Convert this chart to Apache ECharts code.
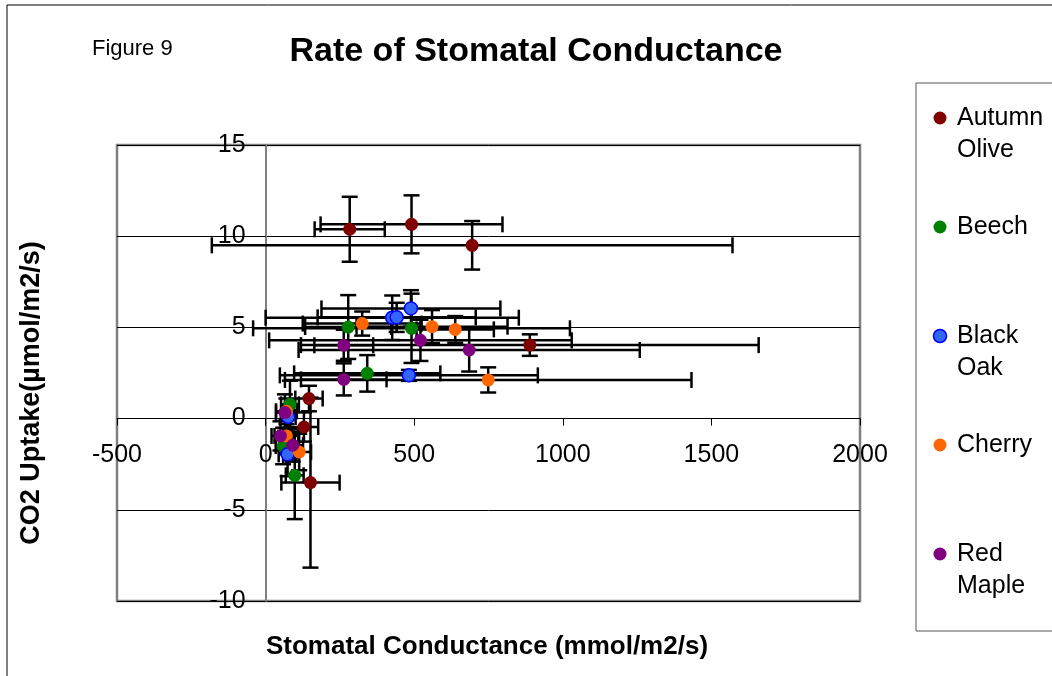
<!DOCTYPE html>
<html><head><meta charset="utf-8">
<script src="https://cdn.jsdelivr.net/npm/echarts@6/dist/echarts.min.js"></script>
<style>html,body{margin:0;padding:0;background:#fff}#c{width:1052px;height:676px}</style>
</head><body><div id="c"></div>
<script>
// Series names and legend text lines
const seriesNames = ['Autumn Olive', 'Beech', 'Black Oak', 'Cherry', 'Red Maple'];
const legendLines = [['Autumn', 'Olive'], ['Beech'], ['Black', 'Oak'], ['Cherry'], ['Red', 'Maple']];
// each point: [stomatal conductance, CO2 uptake, conductance error, uptake error]
const autumnOlive = [[283, 10.38, 118, 1.78], [491, 10.65, 306, 1.59], [695, 9.50, 876, 1.33], [889, 4.03, 770, 0.59], [146, 1.10, 46, 0.7], [129, -0.46, 48, 0.8], [151, -3.51, 98, 4.66]];
const beech = [[278, 5.02, 145, 1.75], [491, 4.95, 533, 1.9], [342, 2.48, 246, 1.0], [82, 0.78, 30, 1.3], [59, -1.50, 25, 1.0], [98, -3.11, 30, 2.4]];
const blackOak = [[489, 6.04, 301, 1.0], [426, 5.53, 426, 1.22], [441, 5.55, 266, 0.8], [482, 2.37, 434, 0.3], [76, 0.09, 25, 0.6], [74, -1.96, 30, 1.2]];
const cherry = [[325, 5.21, 200, 0.66], [560, 5.04, 254, 0.91], [638, 4.89, 130, 0.73], [749, 2.12, 684, 0.69], [70, 0.40, 35, 0.7], [70, -0.95, 40, 0.9], [113, -1.83, 40, 1.0]];
const redMaple = [[263, 4.02, 99, 0.85], [521, 4.29, 509, 1.13], [685, 3.76, 574, 1.18], [263, 2.15, 144, 0.88], [65, 0.33, 30, 1.0], [50, -0.95, 30, 0.8], [91, -1.46, 35, 0.9]];
const xAxisRange = [-500, 2000, 500];
const yAxisRange = [-10, 15, 5];
const chartTitle = 'Rate of Stomatal Conductance';
const figureLabel = 'Figure 9';
const xTitle = 'Stomatal Conductance (mmol/m2/s)';
const yTitle = 'CO2 Uptake(µmol/m2/s)';

const allData = [autumnOlive, beech, blackOak, cherry, redMaple];
const colors = ['#800000', '#008000', '#3366FF', '#FF6600', '#800080'];
const borders = [null, null, '#0000FF', null, null];
const FONT = '"Liberation Sans", Arial, sans-serif';

// plot box
const G = { left: 117, top: 145, width: 743, height: 456 };
// axis lines cross at value 0: shift each axis from its grid edge to the zero position
const xAxisOffset = -G.height * (0 - yAxisRange[0]) / (yAxisRange[1] - yAxisRange[0]);
const yAxisOffset = -G.width * (0 - xAxisRange[0]) / (xAxisRange[1] - xAxisRange[0]);

function errRender(params, api) {
  const x = api.value(0), y = api.value(1), ex = api.value(2), ey = api.value(3);
  const L = api.coord([x - ex, y]), R = api.coord([x + ex, y]);
  const T = api.coord([x, y + ey]), B = api.coord([x, y - ey]);
  const c = 8;
  const st = { stroke: '#000', lineWidth: 2.5 };
  const line = (x1, y1, x2, y2) => ({ type: 'line', shape: { x1, y1, x2, y2 }, style: st });
  return { type: 'group', children: [
    line(L[0], L[1], R[0], R[1]), line(L[0], L[1] - c, L[0], L[1] + c), line(R[0], R[1] - c, R[0], R[1] + c),
    line(T[0], T[1], B[0], B[1]), line(T[0] - c, T[1], T[0] + c, T[1]), line(B[0] - c, B[1], B[0] + c, B[1])
  ]};
}

const series = [];
allData.forEach((arr, i) => {
  series.push({
    type: 'custom', name: seriesNames[i] + ' error', renderItem: errRender,
    data: arr, encode: { x: 0, y: 1 }, z: 2, clip: false, silent: true
  });
});
allData.forEach((arr, i) => {
  series.push({
    type: 'scatter', name: seriesNames[i], data: arr.map(d => [d[0], d[1]]),
    symbol: 'circle', symbolSize: 13, z: 3,
    itemStyle: { color: colors[i], opacity: 1, borderColor: borders[i] || colors[i], borderWidth: borders[i] ? 1.5 : 0 }
  });
});

const graphic = [
  { type: 'rect', shape: { x: 7, y: 5, width: 1080, height: 720 }, style: { fill: 'none', stroke: '#000', lineWidth: 1 }, z: 0 },
  { type: 'text', style: { text: figureLabel, x: 92, y: 49, font: '22px ' + FONT, fill: '#000', textAlign: 'left', textVerticalAlign: 'middle', align: 'left', verticalAlign: 'middle' } },
  { type: 'text', style: { text: chartTitle, x: 536, y: 52, font: 'bold 34px ' + FONT, fill: '#000', textAlign: 'center', textVerticalAlign: 'middle', align: 'center', verticalAlign: 'middle' } },
  { type: 'text', style: { text: xTitle, x: 487, y: 647, font: 'bold 26px ' + FONT, fill: '#000', textAlign: 'center', textVerticalAlign: 'middle', align: 'center', verticalAlign: 'middle' } },
  { type: 'text', x: 32, y: 393, rotation: Math.PI / 2, style: { text: yTitle, x: 0, y: 0, font: 'bold 27px ' + FONT, fill: '#000', textAlign: 'center', textVerticalAlign: 'middle', align: 'center', verticalAlign: 'middle' } },
  { type: 'rect', shape: { x: 916, y: 83, width: 200, height: 548 }, style: { fill: '#fff', stroke: '#555', lineWidth: 1 } }
];
legendLines.forEach((lines, i) => {
  const y0 = 118 + i * 109;
  graphic.push({ type: 'circle', shape: { cx: 940, cy: y0, r: 6.5 }, style: { fill: colors[i], stroke: borders[i] || colors[i], lineWidth: borders[i] ? 1.5 : 0 }, z: 10 });
  lines.forEach((t, j) => {
    graphic.push({ type: 'text', z: 10, style: { text: t, x: 957, y: y0 + j * 32, font: '25px ' + FONT, fill: '#000', textAlign: 'left', textVerticalAlign: 'middle', align: 'left', verticalAlign: 'middle' } });
  });
});

const chart = echarts.init(document.getElementById('c'), null, { renderer: 'canvas' });
chart.setOption({
  animation: false,
  backgroundColor: '#fff',
  textStyle: { fontFamily: FONT },
  grid: { left: G.left, top: G.top, width: G.width, height: G.height, show: true, borderColor: '#808080', borderWidth: 2.5, backgroundColor: '#fff' },
  xAxis: {
    type: 'value', min: xAxisRange[0], max: xAxisRange[1], interval: xAxisRange[2],
    position: 'bottom', offset: xAxisOffset,
    axisLine: { show: true, onZero: false, lineStyle: { color: '#000', width: 1 } },
    axisTick: { show: true, length: 7, lineStyle: { color: '#000' } },
    axisLabel: { margin: 24, color: '#000', fontSize: 25, fontFamily: FONT, formatter: v => String(v) },
    splitLine: { show: false }
  },
  yAxis: {
    type: 'value', min: yAxisRange[0], max: yAxisRange[1], interval: yAxisRange[2],
    position: 'left', offset: yAxisOffset,
    axisLine: { show: true, onZero: false, lineStyle: { color: '#808080', width: 2 } },
    axisTick: { show: true, length: 7, lineStyle: { color: '#000' } },
    axisLabel: { margin: 20, color: '#000', fontSize: 25, fontFamily: FONT, formatter: v => String(v) },
    splitLine: { show: true, lineStyle: { color: '#000', width: 1 } }
  },
  graphic: graphic,
  series: series
});
</script></body></html>
